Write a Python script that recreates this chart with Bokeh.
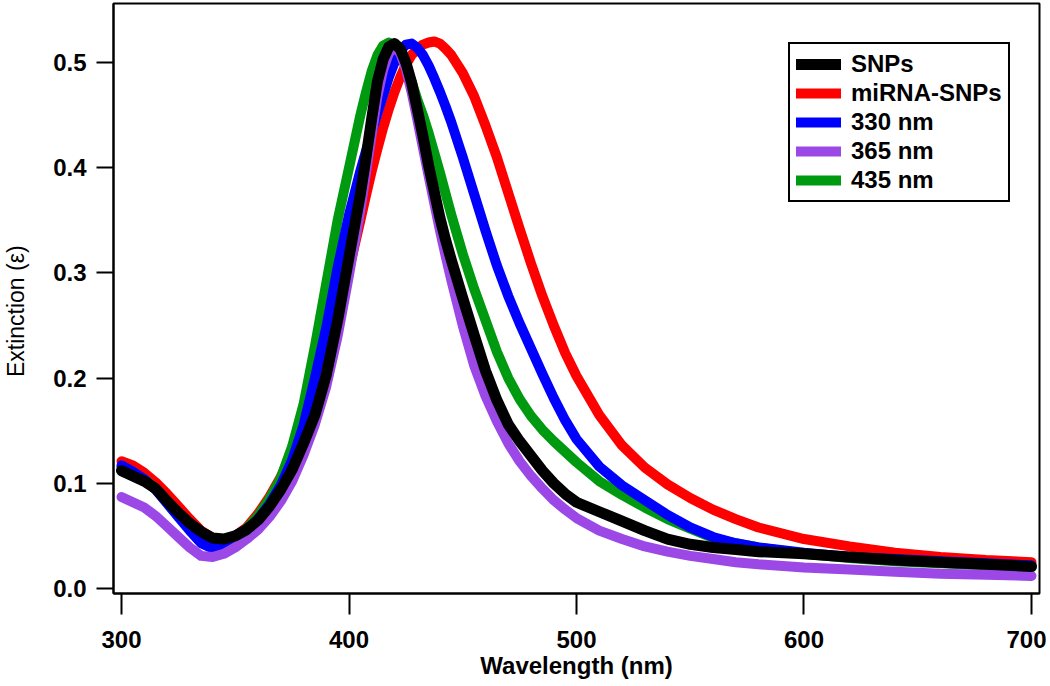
from bokeh.plotting import figure
from bokeh.models import Range1d, FixedTicker, Legend, LegendItem, PrintfTickFormatter
from bokeh.embed import file_html
from bokeh.resources import INLINE

wavelength = [300, 305, 310, 315, 320, 325, 330, 335, 340, 345, 350, 355, 360, 365, 370, 375,
              380, 385, 390, 395, 400,
              405, 407.5, 410, 412.5, 415, 417.5, 420, 422.5, 425, 427.5, 430, 432.5, 435,
              437.5, 440, 442.5, 445,
              450, 455, 460, 465, 470, 475, 480, 485, 490, 495, 500,
              510, 520, 530, 540, 550, 560, 570, 580,
              600, 620, 640, 660, 680, 700]

snps = [0.112, 0.107, 0.102, 0.095, 0.083, 0.072, 0.062, 0.054, 0.048, 0.047, 0.050, 0.056,
        0.065, 0.078, 0.094, 0.113, 0.138, 0.165, 0.203, 0.255, 0.315,
        0.375, 0.410, 0.447, 0.482, 0.503, 0.515, 0.518, 0.513, 0.500, 0.481, 0.456, 0.430,
        0.402, 0.377, 0.352, 0.331, 0.312,
        0.276, 0.241, 0.207, 0.179, 0.156, 0.140, 0.126, 0.112, 0.100, 0.090, 0.082,
        0.073, 0.064, 0.055, 0.047, 0.042, 0.039, 0.037, 0.035,
        0.033, 0.030, 0.027, 0.025, 0.023, 0.021]

mirna_snps = [0.121, 0.117, 0.110, 0.101, 0.090, 0.078, 0.066, 0.055, 0.048, 0.046, 0.050, 0.058,
              0.071, 0.087, 0.106, 0.130, 0.157, 0.188, 0.222, 0.260, 0.303,
              0.350, 0.374, 0.397, 0.418, 0.438, 0.456, 0.472, 0.486, 0.498, 0.507, 0.513, 0.517,
              0.519, 0.520, 0.518, 0.513, 0.507,
              0.490, 0.468, 0.440, 0.410, 0.376, 0.342, 0.309, 0.278, 0.250, 0.224, 0.202,
              0.165, 0.136, 0.115, 0.099, 0.086, 0.075, 0.066, 0.058,
              0.047, 0.040, 0.034, 0.030, 0.027, 0.025]

nm330 = [0.117, 0.111, 0.104, 0.094, 0.081, 0.068, 0.055, 0.043, 0.038, 0.040, 0.046, 0.055,
         0.066, 0.080, 0.098, 0.122, 0.155, 0.200, 0.248, 0.305, 0.355,
         0.397, 0.416, 0.434, 0.452, 0.469, 0.486, 0.500, 0.511, 0.517, 0.518, 0.514, 0.507,
         0.497, 0.485, 0.472, 0.458, 0.443,
         0.410, 0.375, 0.340, 0.307, 0.278, 0.252, 0.228, 0.204, 0.181, 0.160, 0.142,
         0.116, 0.098, 0.084, 0.070, 0.058, 0.049, 0.043, 0.039,
         0.034, 0.030, 0.028, 0.026, 0.024, 0.022]

nm365 = [0.087, 0.082, 0.077, 0.069, 0.059, 0.049, 0.039, 0.031, 0.030, 0.033, 0.039, 0.047,
         0.056, 0.068, 0.083, 0.102, 0.127, 0.156, 0.192, 0.240, 0.298,
         0.360, 0.396, 0.432, 0.468, 0.493, 0.509, 0.515, 0.509, 0.494, 0.472, 0.446, 0.419,
         0.392, 0.366, 0.340, 0.316, 0.293,
         0.250, 0.212, 0.183, 0.159, 0.138, 0.121, 0.107, 0.095, 0.084, 0.075, 0.067,
         0.055, 0.047, 0.040, 0.035, 0.031, 0.028, 0.025, 0.023,
         0.020, 0.018, 0.016, 0.014, 0.013, 0.012]

nm435 = [0.115, 0.110, 0.104, 0.095, 0.083, 0.071, 0.058, 0.047, 0.041, 0.042, 0.048, 0.057,
         0.069, 0.085, 0.105, 0.135, 0.175, 0.230, 0.290, 0.350, 0.400,
         0.450, 0.472, 0.492, 0.507, 0.516, 0.519, 0.516, 0.508, 0.496, 0.482, 0.465, 0.450,
         0.433, 0.414, 0.395, 0.375, 0.355,
         0.318, 0.285, 0.255, 0.225, 0.200, 0.180, 0.164, 0.151, 0.140, 0.130, 0.120,
         0.102, 0.089, 0.077, 0.066, 0.057, 0.048, 0.043, 0.039,
         0.033, 0.029, 0.026, 0.024, 0.022, 0.020]

series_labels = ["SNPs", "miRNA-SNPs", "330 nm", "365 nm", "435 nm"]
x_ticks = [300, 400, 500, 600, 700]
y_ticks = [0.0, 0.1, 0.2, 0.3, 0.4, 0.5]

FONT = "Liberation Sans"

p = figure(width=1046, height=686, output_backend="svg", toolbar_location=None,
           x_range=Range1d(296.48, 703.52), y_range=Range1d(-0.00475, 0.5561),
           min_border_left=113, min_border_right=7, min_border_top=3, min_border_bottom=93)

p.background_fill_color = "white"
p.border_fill_color = "white"
p.outline_line_color = "black"
p.outline_line_width = 2
p.outline_line_alpha = 1.0
p.xgrid.visible = False
p.ygrid.visible = False

def ln(y, color, w=10):
    return p.line(wavelength, y, line_width=w, line_color=color,
                  line_cap="round", line_join="round")

r_red = ln(mirna_snps, "#ff0000")
r_green = ln(nm435, "#009a10")
r_blue = ln(nm330, "#0000ff")
r_purple = ln(nm365, "#9b48e6")
r_black = ln(snps, "#000000", 11)

for ax in (p.xaxis[0], p.yaxis[0]):
    ax.axis_line_width = 2
    ax.axis_line_color = "black"
    ax.major_tick_line_width = 2
    ax.major_tick_line_color = "black"
    ax.minor_tick_line_color = None
    ax.major_tick_in = 0
    ax.major_label_text_font = FONT
    ax.major_label_text_font_style = "bold"
    ax.major_label_text_font_size = "24px"
    ax.major_label_text_color = "black"
    ax.axis_label_text_font = FONT
    ax.axis_label_text_color = "black"

p.xaxis.ticker = FixedTicker(ticks=x_ticks)
p.yaxis.ticker = FixedTicker(ticks=y_ticks)
p.yaxis.formatter = PrintfTickFormatter(format="%.1f")
p.xaxis.major_tick_out = 21
p.yaxis.major_tick_out = 17
p.xaxis.major_label_standoff = 16
p.yaxis.major_label_standoff = 10

p.xaxis.axis_label = "Wavelength (nm)"
p.xaxis.axis_label_text_font_size = "24px"
p.xaxis.axis_label_text_font_style = "bold"
p.xaxis.axis_label_standoff = 1
p.yaxis.axis_label = "Extinction (ε)\u00a0\u00a0\u00a0\u00a0"
p.yaxis.axis_label_text_font_size = "23px"
p.yaxis.axis_label_text_font_style = "normal"
p.yaxis.axis_label_standoff = 21

renderers = [r_black, r_red, r_blue, r_purple, r_green]
legend = Legend(items=[LegendItem(label=l, renderers=[r]) for l, r in zip(series_labels, renderers)],
                location=(675, 391))
legend.margin = 0
legend.padding = 6
legend.spacing = 1
legend.glyph_width = 45
legend.glyph_height = 28
legend.label_height = 28
legend.label_standoff = 10
legend.label_text_font = FONT
legend.label_text_font_style = "bold"
legend.label_text_font_size = "24px"
legend.label_text_color = "black"
legend.border_line_color = "black"
legend.border_line_alpha = 1.0
legend.border_line_width = 2
legend.background_fill_color = "white"
legend.background_fill_alpha = 1.0
p.add_layout(legend)

open("out.html", "w").write(file_html(p, INLINE))
